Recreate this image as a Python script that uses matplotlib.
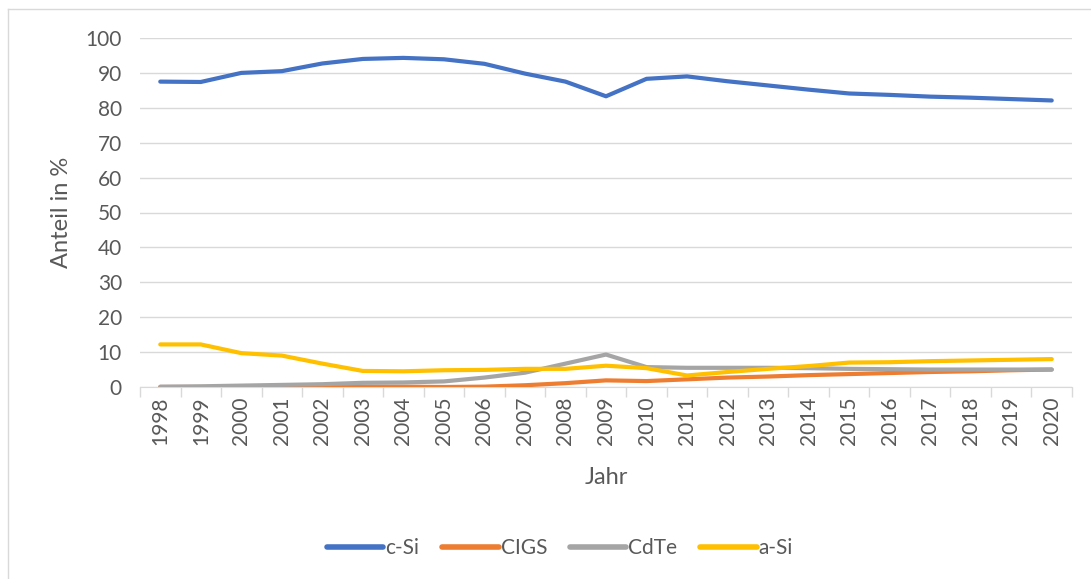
import numpy as np
import matplotlib
matplotlib.use("Agg")
import matplotlib.pyplot as plt
from matplotlib.lines import Line2D

years = [str(y) for y in range(1998, 2021)]
c_si = [87.5, 87.4, 90.0, 90.5, 92.7, 94.0, 94.3, 93.9, 92.6, 89.8, 87.5, 83.3,
        88.3, 89.0, 87.6, 86.4, 85.2, 84.1, 83.7, 83.2, 82.9, 82.5, 82.1]
cigs = [0.0, 0.0, 0.0, 0.0, 0.0, 0.1, 0.1, 0.0, 0.1, 0.5, 1.1, 1.9,
        1.7, 2.2, 2.7, 3.0, 3.4, 3.7, 4.0, 4.3, 4.5, 4.8, 5.0]
cdte = [0.1, 0.2, 0.4, 0.6, 0.8, 1.2, 1.3, 1.6, 2.7, 4.1, 6.7, 9.3,
        5.7, 5.5, 5.5, 5.5, 5.4, 5.2, 5.1, 5.0, 5.0, 5.0, 5.0]
a_si = [12.2, 12.2, 9.7, 9.0, 6.7, 4.6, 4.5, 4.8, 4.9, 5.2, 5.2, 6.1,
        5.4, 3.3, 4.3, 5.2, 6.0, 7.0, 7.1, 7.4, 7.6, 7.8, 8.0]
series = [("c-Si", c_si, "#4472C4"), ("CIGS", cigs, "#ED7D31"),
          ("CdTe", cdte, "#A5A5A5"), ("a-Si", a_si, "#FFC000")]

txt = "#595959"
grid = "#D9D9D9"
plt.rcParams['font.family'] = ['Lato', 'DejaVu Sans']

fig = plt.figure(figsize=(10.91, 5.79), dpi=100)
ax = fig.add_axes([140 / 1091, 1 - 387 / 579, 932 / 1091, 349 / 579])

x = np.arange(len(years))
for name, vals, col in series:
    ax.plot(x, vals, color=col, lw=3.0, solid_capstyle='round', label=name)

ax.set_xlim(-0.5, len(years) - 0.5)
ax.set_ylim(0, 100)
ax.set_yticks(range(0, 101, 10))
ax.set_xticks(x)
ax.set_xticklabels(years, rotation=90)
ax.set_xticks(np.arange(-0.5, len(years), 1), minor=True)
ax.tick_params(axis='x', which='major', length=0, pad=7, labelsize=15, labelcolor=txt)
ax.tick_params(axis='x', which='minor', length=7, color=grid, width=1)
ax.tick_params(axis='y', length=0, pad=13, labelsize=15, labelcolor=txt)
ax.grid(axis='y', color=grid, lw=1)
ax.set_axisbelow(True)
for s in ['top', 'right', 'left']:
    ax.spines[s].set_visible(False)
ax.spines['bottom'].set_color(grid)
ax.spines['bottom'].set_zorder(0.5)

ax.set_ylabel("Anteil in %", fontsize=17, color=txt, labelpad=10)
fig.text(606 / 1091, 1 - 478 / 579, "Jahr", fontsize=17, color=txt,
         ha='center', va='center')

handles = [Line2D([], [], color=c, lw=4, solid_capstyle='round') for _, _, c in series]
fig.legend(handles, [n for n, _, _ in series], loc='center',
           bbox_to_anchor=(560 / 1091, 1 - 548 / 579), ncol=4, frameon=False,
           fontsize=15, labelcolor=txt, handlelength=2.7, handletextpad=0.1,
           columnspacing=1.1)

# chart frame
fig.add_artist(Line2D([8 / 1091, 8 / 1091], [0, 1 - 9 / 579], color=grid, lw=1))
fig.add_artist(Line2D([8 / 1091, 1], [1 - 9 / 579, 1 - 9 / 579], color=grid, lw=1))

fig.savefig("out.png", dpi=100)
